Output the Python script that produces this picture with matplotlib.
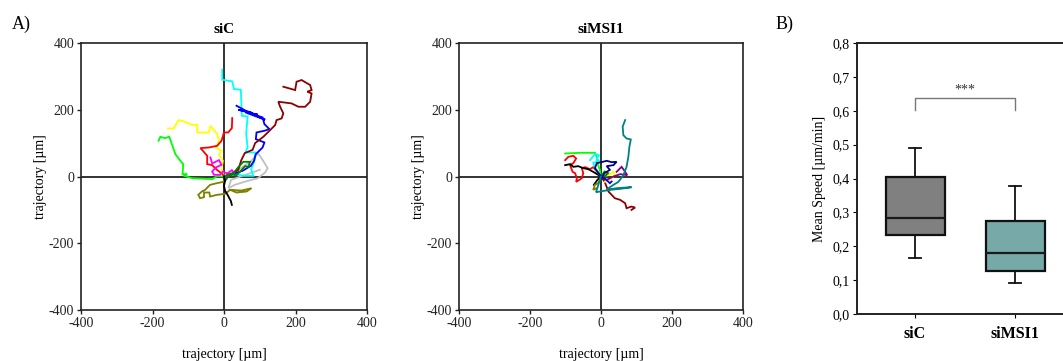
import matplotlib
matplotlib.use("Agg")
import matplotlib.pyplot as plt
from matplotlib.ticker import FuncFormatter

plt.rcParams['font.family'] = ['Liberation Serif', 'DejaVu Serif']
plt.rcParams['axes.unicode_minus'] = False

# ---------------- data: siC trajectories (um) ----------------
sic_cyan_x = [0, 15, 40, 58, 82, 76, 85, 88, 60, 66, 62, 66, 50, 47, 28, 23, -5, -5]
sic_cyan_y = [0, 5, 5, 2, 2, 22, 47, 72, 72, 88, 128, 180, 182, 260, 262, 285, 290, 320]
sic_blue_x = [0, 23, 52, 75, 84, 89, 108, 113, 89, 91, 113, 127, 113, 108, 80, 115, 60, 95, 40, 80, 61, 35]
sic_blue_y = [0, 7, 17, 32, 47, 67, 87, 102, 112, 132, 137, 142, 157, 177, 187, 170, 192, 185, 200, 190, 197, 212]
sic_dred_x = [0, 25, 40, 48, 58, 80, 87, 110, 129, 143, 147, 161, 166, 157, 152, 189, 208, 227, 241, 245, 233, 245, 241, 217, 203, 199, 166]
sic_dred_y = [0, 10, 20, 48, 70, 80, 100, 119, 139, 154, 169, 174, 189, 209, 224, 219, 209, 209, 224, 249, 254, 259, 274, 289, 284, 259, 269]
sic_red_x = [0, -5, -20, -33, -47, -47, -59, -66, -42, -19, -7, 0, 12, 22, 23]
sic_red_y = [0, 8, 20, 34, 37, 62, 77, 85, 87, 92, 107, 132, 132, 145, 175]
sic_yellow_x = [0, -7, -3, -14, -7, -23, -14, -19, -38, -42, -75, -75, -89, -113, -127, -141, -157]
sic_yellow_y = [0, 27, 47, 65, 77, 87, 107, 127, 152, 132, 132, 155, 155, 165, 169, 144, 144]
sic_lime_x = [0, -19, -33, -89, -113, -103, -116, -114, -122, -136, -153, -166, -178, -183]
sic_lime_y = [0, 1, -8, -5, 2, 7, 7, 37, 47, 67, 119, 115, 119, 107]
sic_magenta_x = [0, 14, 28, 22, 9, -3, -12, -28, -33, -23, -7, -14, -33, -38]
sic_magenta_y = [0, 3, 11, 19, 9, 15, 5, 5, 15, 27, 35, 49, 39, 57]
sic_green_x = [0, 14, 35, 49, 59, 68, 73, 54, 45, 26, 10, 3]
sic_green_y = [0, 7, 4, 19, 31, 29, 44, 44, 34, 10, -3, -13]
sic_gray_x = [0, 40, 75, 95, 105, 122, 115, 95, 60, 30, 12, 20, 100]
sic_gray_y = [0, 20, 45, 70, 55, 25, 12, -5, -15, -25, -35, -10, 20]
sic_olive_x = [0, 3, -2, -20, -39, -53, -62, -72, -67, -56, -56, -41, -39, -20, 3, 17, 35, 63, 77, 49, 17]
sic_olive_y = [0, -5, -16, -20, -25, -40, -45, -55, -65, -62, -48, -48, -60, -55, -52, -40, -48, -45, -35, -42, -40]
sic_black_x = [0, 3, 0, 3, 9, 14, 19, 22]
sic_black_y = [0, -13, -28, -43, -53, -63, -73, -85]

# ---------------- data: siMSI1 trajectories (um) ----------------
msi_teal_x = [0, -14, 25, 54, 86, 44, 16, 21, 35, 49, 63, 72, 77, 80, 84, 72, 63, 61, 68]
msi_teal_y = [0, -47, -40, -37, -32, -35, -40, -35, -25, -16, 4, 29, 59, 89, 111, 114, 124, 149, 169]
msi_dred_x = [0, 10, 21, 30, 39, 54, 68, 72, 86, 96, 86]
msi_dred_y = [0, -15, -45, -55, -65, -70, -80, -95, -90, -93, -100]
msi_red_x = [0, -22, -31, -45, -54, -50, -54, -61, -70, -68, -73, -80, -87, -78, -70, -78, -92, -101]
msi_red_y = [0, 28, 22, 28, 25, 10, -5, -10, -16, -5, 10, 14, 34, 40, 54, 62, 59, 49]
msi_lime_x = [0, -3, -10, -12, -17, -59, -101]
msi_lime_y = [0, 19, 40, 59, 71, 71, 69]
msi_cyan_x = [0, -17, -22, -5, -12, -5, -17, -31]
msi_cyan_y = [0, 25, 41, 47, 54, 64, 67, 49]
msi_black_x = [-20, -10, 0, -22, -36, -50, -64, -78, -87, -101]
msi_black_y = [-25, -10, 0, 14, 22, 25, 31, 29, 37, 34]
msi_navy_x = [0, -17, -12, 5, 16, 30, 44, 35, 16, 25, 10, 2]
msi_navy_y = [0, 25, 40, 44, 47, 43, 44, 34, 31, 20, 10, -5]
msi_purple_x = [0, 16, 35, 54, 74, 65, 58, 44]
msi_purple_y = [0, -10, 0, 7, 4, 19, 29, 14]
msi_yellow_x = [0, 21, 35, 39, 25, 11]
msi_yellow_y = [0, 4, 14, 4, -10, -16]
msi_olive_x = [0, -3, -8, -17, -22, -12]
msi_olive_y = [0, -10, -20, -25, -40, -35]
msi_green_x = [0, 10, 20, 5]
msi_green_y = [0, 15, 10, -5]
msi_blue_x = [0, 15, 25, 30]
msi_blue_y = [0, -10, -20, -15]

# ---------------- data: box plot (mean speed, um/min) ----------------
groups = ['siC', 'siMSI1']
whisker_low = [0.165, 0.092]
q1 = [0.233, 0.128]
median = [0.284, 0.180]
q3 = [0.405, 0.275]
whisker_high = [0.490, 0.378]
box_colors = ['#808080', '#76A9A8']

traj_ticks = [-400, -200, 0, 200, 400]

W, H = 1063, 361
fig = plt.figure(figsize=(W / 100, H / 100), dpi=100)

def px_axes(x0, y0, x1, y1):
    return fig.add_axes([x0 / W, 1 - y1 / H, (x1 - x0) / W, (y1 - y0) / H])

LW = 1.3
TICK_FS = 10

def traj_panel(ax, title, tracks):
    for xs, ys, c in tracks:
        ax.plot(xs, ys, color=c, lw=LW, solid_joinstyle='miter')
    ax.axhline(0, color='#333333', lw=1.4, zorder=0)
    ax.axvline(0, color='#333333', lw=1.4, zorder=0)
    ax.set_xlim(-400, 400)
    ax.set_ylim(-400, 400)
    ax.set_xticks(traj_ticks)
    ax.set_yticks(traj_ticks)
    ax.tick_params(direction='out', length=3, width=1, labelsize=TICK_FS, pad=2, colors='#222222')
    for s in ax.spines.values():
        s.set_linewidth(1.2)
        s.set_color('#222222')
    ax.set_title(title, fontsize=11, fontweight='bold', pad=7)
    ax.set_xlabel('trajectory [µm]', fontsize=10, labelpad=13)
    ax.set_ylabel('trajectory [µm]', fontsize=10, labelpad=1)

ax1 = px_axes(81, 43, 367, 310)
traj_panel(ax1, 'siC', [
    (sic_gray_x, sic_gray_y, '#C0C0C0'),
    (sic_cyan_x, sic_cyan_y, '#00FFFF'),
    (sic_blue_x, sic_blue_y, '#0000FF'),
    (sic_dred_x, sic_dred_y, '#8B0000'),
    (sic_yellow_x, sic_yellow_y, '#FFFF00'),
    (sic_red_x, sic_red_y, '#FF0000'),
    (sic_lime_x, sic_lime_y, '#00FF00'),
    (sic_magenta_x, sic_magenta_y, '#FF00FF'),
    (sic_olive_x, sic_olive_y, '#808000'),
    (sic_green_x, sic_green_y, '#008000'),
    (sic_black_x, sic_black_y, '#000000'),
])

ax2 = px_axes(459, 43, 743, 310)
traj_panel(ax2, 'siMSI1', [
    (msi_dred_x, msi_dred_y, '#8B0000'),
    (msi_lime_x, msi_lime_y, '#00FF00'),
    (msi_red_x, msi_red_y, '#FF0000'),
    (msi_black_x, msi_black_y, '#000000'),
    (msi_cyan_x, msi_cyan_y, '#00FFFF'),
    (msi_olive_x, msi_olive_y, '#808000'),
    (msi_yellow_x, msi_yellow_y, '#FFFF00'),
    (msi_purple_x, msi_purple_y, '#800080'),
    (msi_green_x, msi_green_y, '#008000'),
    (msi_blue_x, msi_blue_y, '#0000FF'),
    (msi_navy_x, msi_navy_y, '#000080'),
    (msi_teal_x, msi_teal_y, '#008080'),
])

# ---------------- box plot ----------------
ax3 = px_axes(857, 43, 1073, 314)
stats = []
for i, g in enumerate(groups):
    stats.append(dict(label=g, whislo=whisker_low[i], q1=q1[i], med=median[i],
                      q3=q3[i], whishi=whisker_high[i], fliers=[]))
bp = ax3.bxp(stats, positions=[0, 1], widths=0.59, patch_artist=True,
             showfliers=False,
             boxprops=dict(linewidth=1.6, edgecolor='#111111'),
             medianprops=dict(color='#1a1a1a', linewidth=1.6),
             whiskerprops=dict(color='#111111', linewidth=1.3),
             capprops=dict(color='#111111', linewidth=1.3),
             capwidths=0.12)
for patch, c in zip(bp['boxes'], box_colors):
    patch.set_facecolor(c)
ax3.set_xlim(-0.58, 1.58)
ax3.set_ylim(0, 0.8)
ax3.set_yticks([0, 0.1, 0.2, 0.3, 0.4, 0.5, 0.6, 0.7, 0.8])
ax3.yaxis.set_major_formatter(FuncFormatter(lambda v, p: f'{v:.1f}'.replace('.', ',')))
ax3.set_xticks([0, 1])
ax3.set_xticklabels(groups, fontsize=11.5, fontweight='bold')
ax3.tick_params(axis='y', direction='out', length=3, labelsize=TICK_FS, pad=2)
ax3.tick_params(axis='x', direction='out', length=3, pad=6)
ax3.spines['right'].set_visible(False)
for s in ['left', 'top', 'bottom']:
    ax3.spines[s].set_linewidth(1.4)
    ax3.spines[s].set_color('#222222')
ax3.set_ylabel('Mean Speed [µm/min]', fontsize=10, labelpad=5)
ax3.plot([0, 0, 1, 1], [0.603, 0.637, 0.637, 0.603], color='#777777', lw=1.0)
ax3.text(0.5, 0.66, '***', ha='center', va='center', fontsize=10, color='#333333')

fig.text(12 / W, 1 - 24 / H, 'A)', fontsize=13, va='center', ha='left')
fig.text(776 / W, 1 - 24 / H, 'B)', fontsize=13, va='center', ha='left')

fig.savefig('out.png', dpi=100)
